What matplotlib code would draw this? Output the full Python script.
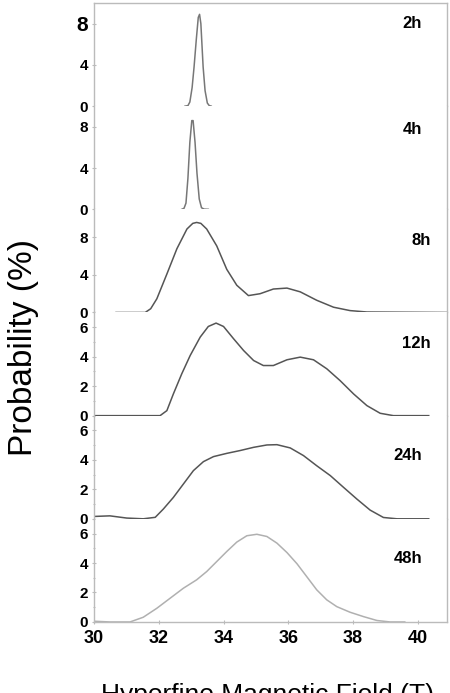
import matplotlib.pyplot as plt
from matplotlib.ticker import MultipleLocator

plt.rcParams["font.family"] = ["Liberation Sans", "DejaVu Sans"]

LABELS = ["2h", "4h", "8h", "12h", "24h", "48h"]

# field (T) and probability (%)
x_2h = [32.81, 32.90, 32.96, 33.03, 33.09, 33.16, 33.22, 33.26, 33.30, 33.37, 33.43, 33.50, 33.56, 33.62]
y_2h = [0.0, 0.05, 0.4, 1.8, 3.8, 6.5, 8.6, 8.9, 8.0, 3.8, 1.5, 0.3, 0.05, 0.0]

x_4h = [32.71, 32.78, 32.84, 32.90, 32.96, 33.02, 33.06, 33.12, 33.18, 33.25, 33.32, 33.40, 33.53]
y_4h = [0.0, 0.1, 0.6, 3.0, 6.5, 8.6, 8.6, 6.5, 3.5, 1.0, 0.15, 0.02, 0.0]

x_8h = [30.68, 31.58, 31.75, 31.94, 32.25, 32.56, 32.87, 33.05, 33.17, 33.30, 33.48, 33.79,
        34.10, 34.41, 34.77, 35.13, 35.54, 35.96, 36.37, 36.88, 37.40, 37.91, 38.43, 41.0]
y_8h = [0.0, 0.0, 0.4, 1.46, 4.1, 6.8, 8.9, 9.5, 9.6, 9.5, 8.9, 7.1,
        4.6, 2.9, 1.8, 2.0, 2.5, 2.6, 2.2, 1.3, 0.56, 0.2, 0.05, 0.0]

x_12h = [30.0, 32.04, 32.25, 32.45, 32.71, 32.97, 33.28, 33.53, 33.77, 34.00, 34.31, 34.62,
         34.93, 35.23, 35.54, 35.96, 36.37, 36.78, 37.19, 37.60, 38.02, 38.43, 38.84, 39.25, 40.34]
y_12h = [0.0, 0.0, 0.34, 1.47, 2.84, 4.08, 5.33, 6.05, 6.28, 6.05, 5.22, 4.42,
         3.74, 3.40, 3.40, 3.79, 3.97, 3.79, 3.18, 2.38, 1.47, 0.68, 0.16, 0.0, 0.0]

x_24h = [30.0, 30.49, 31.01, 31.52, 31.89, 32.14, 32.45, 32.76, 33.07, 33.38, 33.69, 34.10,
         34.51, 34.93, 35.34, 35.65, 36.06, 36.47, 36.88, 37.30, 37.71, 38.12, 38.53, 38.94, 39.36, 40.34]
y_24h = [0.16, 0.2, 0.05, 0.0, 0.1, 0.66, 1.45, 2.36, 3.27, 3.88, 4.22, 4.44,
         4.63, 4.85, 5.01, 5.03, 4.81, 4.29, 3.60, 2.93, 2.13, 1.34, 0.59, 0.09, 0.0, 0.0]

x_48h = [30.0, 30.5, 31.11, 31.52, 31.94, 32.35, 32.76, 33.17, 33.48, 33.79, 34.10, 34.41, 34.72,
         35.03, 35.34, 35.65, 35.96, 36.27, 36.57, 36.88, 37.19, 37.50, 37.91, 38.33, 38.74, 39.15, 39.6]
y_48h = [0.05, 0.0, 0.0, 0.32, 0.93, 1.61, 2.29, 2.86, 3.42, 4.10, 4.78, 5.42, 5.85,
         5.95, 5.80, 5.35, 4.71, 3.95, 3.08, 2.18, 1.50, 1.04, 0.66, 0.36, 0.10, 0.0, 0.0]

series = [(x_2h, y_2h), (x_4h, y_4h), (x_8h, y_8h), (x_12h, y_12h), (x_24h, y_24h), (x_48h, y_48h)]
ytops = [10, 10, 11, 7, 7, 7]
yticks = [[0, 4, 8], [0, 4, 8], [0, 4, 8], [0, 2, 4, 6], [0, 2, 4, 6], [0, 2, 4, 6]]
line_colors = ["#777777", "#777777", "#555555", "#555555", "#555555", "#b0b0b0"]
label_pos = [(0.93, 0.80), (0.93, 0.77), (0.955, 0.70), (0.955, 0.70), (0.93, 0.61), (0.93, 0.62)]

fig, axes = plt.subplots(6, 1, figsize=(4.5, 6.93), dpi=100, sharex=True)
fig.subplots_adjust(left=0.209, right=0.993, bottom=0.1025, top=0.9957, hspace=0)

spine_col = "#bbbbbb"
for i, ax in enumerate(axes):
    xs, ys = series[i]
    ax.plot(xs, ys, color=line_colors[i], lw=1.1)
    ax.set_yticks(yticks[i])
    if i >= 3:
        ax.yaxis.set_minor_locator(MultipleLocator(1))
    ax.set_xlim(30, 40.9)
    ax.set_ylim(0, ytops[i])
    for side in ["left", "right", "top", "bottom"]:
        ax.spines[side].set_color(spine_col)
        ax.spines[side].set_linewidth(1.0)
    ax.spines["top"].set_visible(i == 0)
    ax.spines["bottom"].set_visible(i == 5)
    ax.tick_params(axis="y", which="both", direction="inout", color=spine_col,
                   length=3, width=0.8, labelsize=11, pad=3)
    ax.tick_params(axis="y", which="minor", length=2)
    ax.tick_params(axis="x", which="both", direction="inout", color=spine_col,
                   length=3 if i == 5 else 0, labelsize=13, pad=4)
    for lab in ax.get_yticklabels():
        lab.set_fontweight("bold")
    ax.text(label_pos[i][0], label_pos[i][1], LABELS[i], transform=ax.transAxes,
            ha="right", va="center", fontsize=12, fontweight="bold")

# the top tick label is drawn larger in the original
axes[0].get_yticklabels()[-1].set_fontsize(15)

axes[-1].set_xticks([30, 32, 34, 36, 38, 40])
for lab in axes[-1].get_xticklabels():
    lab.set_fontweight("bold")

fig.text(0.053, 0.499, "Probability (%)", rotation=90, ha="center", va="center", fontsize=24)
fig.text(0.594, -0.013, "Hyperfine Magnetic Field (T)", ha="center", va="baseline", fontsize=19)

plt.savefig("out.png", dpi=100)
plt.close()
